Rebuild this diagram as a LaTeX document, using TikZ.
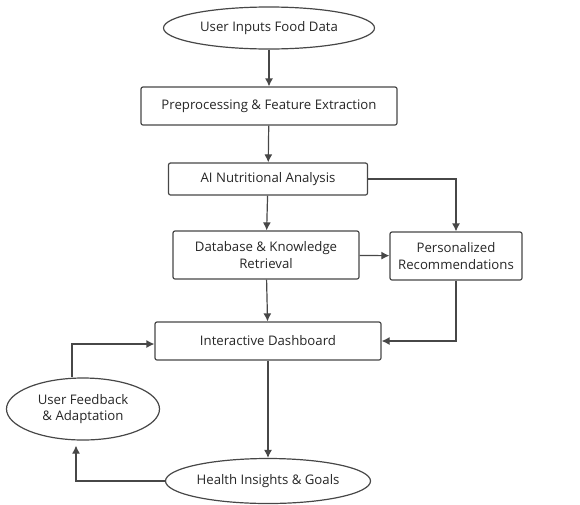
\documentclass[tikz,border=0pt]{standalone}
\usepackage{fontspec}
\setmainfont{Open Sans}
\usetikzlibrary{arrows.meta}
\usetikzlibrary{shapes.geometric}

\begin{document}
\begin{tikzpicture}[x=1pt,y=-1pt,
    line width=1.2pt, draw=black!72, >={Latex[length=8pt,width=8pt]},
    font=\fontsize{13.2}{16.5}\selectfont, text=black!85,
    box/.style={draw, rectangle, rounded corners=2pt, align=center, inner sep=0pt},
    oval/.style={draw, ellipse, align=center, inner sep=0pt}]
    \useasboundingbox (0,0) rectangle (580,504);
    % nodes
    \node[oval, minimum width=211pt, minimum height=42pt] (input) at (269,28) {User Inputs Food Data};
    \node[box, minimum width=256pt, minimum height=38pt] (prep) at (269,106) {Preprocessing \& Feature Extraction};
    \node[box, minimum width=199pt, minimum height=32pt] (ai) at (268,179) {AI Nutritional Analysis};
    \node[box, minimum width=186pt, minimum height=48pt] (db) at (266,255) {Database \& Knowledge\\Retrieval};
    \node[box, minimum width=132pt, minimum height=48pt] (rec) at (456,256) {Personalized\\Recommendations};
    \node[box, minimum width=226pt, minimum height=38pt] (dash) at (268,341) {Interactive Dashboard};
    \node[oval, minimum width=153pt, minimum height=62pt] (fb) at (83,409) {User Feedback\\\& Adaptation};
    \node[oval, minimum width=205pt, minimum height=45pt] (health) at (268,481) {Health Insights \& Goals};
    % connectors
    \draw[->] (input) -- (prep);
    \draw[->] (prep) -- (ai);
    \draw[->] (ai) -- (db);
    \draw[->] (ai.east) -| (rec.north);
    \draw[->] (db) -- (rec);
    \draw[->] (db) -- (dash);
    \draw[->] (rec.south) |- (dash.east);
    \draw[->] ([xshift=-11pt]fb.north) |- ([yshift=-3pt]dash.west);
    \draw[->] (dash) -- (health);
    \draw[->, shorten >=5pt] (health.west) -| ([xshift=-7pt]fb.south);
\end{tikzpicture}
\end{document}
